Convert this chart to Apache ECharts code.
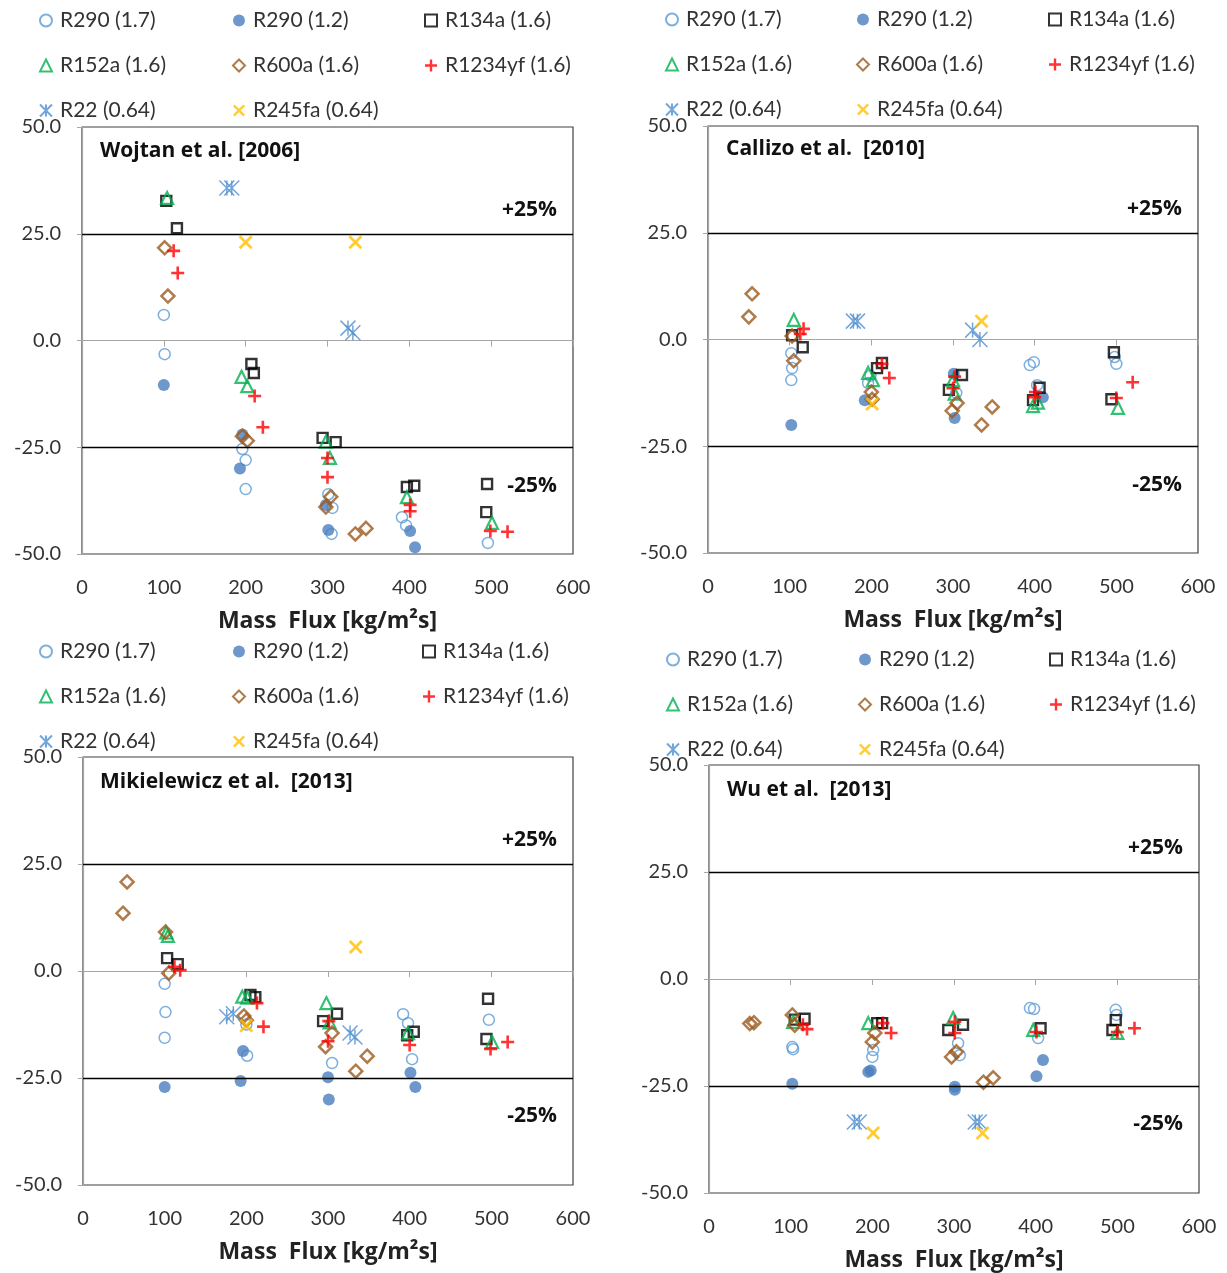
<!DOCTYPE html>
<html lang="en">
<head>
    <meta charset="utf-8">
    <title>Mass flux deviation</title>
    <style>
        html, body { margin: 0; padding: 0; background: #fff; }
        #main { width: 1227px; height: 1273px; }
    </style>
</head>
<body>
<div id="main"></div>
<script src="https://cdn.jsdelivr.net/npm/echarts@6/dist/echarts.min.js"></script>
<script>
    // series names, same order in every panel
    var refrigerants = ['R290 (1.7)', 'R290 (1.2)', 'R134a (1.6)', 'R152a (1.6)',
        'R600a (1.6)', 'R1234yf (1.6)', 'R22 (0.64)', 'R245fa (0.64)'];
    var panelTitles = ['Wojtan et al. [2006]', 'Callizo et al.  [2010]',
        'Mikielewicz et al.  [2013]', 'Wu et al.  [2013]'];
    var xTicks = [0, 100, 200, 300, 400, 500, 600];
    var yTicks = [-50, -25, 0, 25, 50];
    var bandLimits = [25, -25];
    var bandLabels = ['+25%', '-25%'];

    // [mass flux, deviation %] per refrigerant (order of refrigerants)
    var wojtan = [
        [[100, 6], [101, -3.2], [196, -25.4], [200, -28], [200, -34.8], [301, -36], [306, -39.2], [305, -45.3], [391, -41.4], [396, -43.3], [496, -47.4]],
        [[100, -10.4], [196, -22], [193, -30], [298, -38.5], [301, -44.4], [401, -44.6], [407, -48.4]],
        [[103, 32.7], [116, 26.3], [207, -5.5], [210, -7.6], [294, -22.8], [310, -23.8], [397, -34.3], [406, -34], [495, -33.6], [494, -40.2]],
        [[104, 33.4], [195, -8.5], [202, -10.7], [298, -23.7], [303, -27.5], [397, -36.7], [501, -42.7]],
        [[101, 21.7], [105, 10.4], [196, -22.4], [202, -23.5], [304, -36.6], [298, -39], [334, -45.3], [347, -44]],
        [[112, 21], [117, 15.8], [211, -13], [221, -20.3], [300, -27.5], [300, -32], [401, -38.5], [401, -40], [499, -44.6], [520, -44.8]],
        [[177, 35.7], [183, 35.7], [325, 2.9], [331, 1.8]],
        [[200, 23], [334, 23]]
    ];
    var callizo = [
        [[102, -3.2], [103, -6.7], [102, -9.5], [196, -10.2], [199, -8.5], [304, -12.5], [394, -6], [399, -5.3], [403, -10.7], [498, -4.1], [500, -5.7]],
        [[102, -20], [192, -14.2], [301, -8], [302, -18.4], [410, -13.5]],
        [[103, 1], [116, -1.8], [213, -5.5], [207, -6.7], [311, -8.3], [295, -11.8], [406, -11.3], [398, -14.2], [497, -3], [494, -14]],
        [[105, 4.6], [196, -7.8], [202, -9.5], [300, -9.5], [302, -12.7], [398, -15.6], [404, -14.8], [502, -16]],
        [[54, 10.7], [50, 5.3], [103, 0.8], [105, -5], [200, -12.3], [201, -14], [305, -14.9], [299, -16.7], [348, -15.8], [335, -20]],
        [[117, 2.5], [113, 1.3], [213, -5.7], [222, -9], [302, -8.7], [300, -11.4], [401, -12.3], [400, -13.5], [520, -10], [500, -13.7]],
        [[178, 4.3], [183, 4.3], [324, 2.2], [333, 0]],
        [[201, -15.1], [335, 4.3]]
    ];
    var mikielewicz = [
        [[100, -3], [101, -9.6], [100, -15.6], [200, -12.5], [201, -19.8], [305, -21.5], [392, -10.1], [398, -12.2], [403, -20.6], [497, -11.4]],
        [[100, -27.1], [196, -18.7], [193, -25.7], [300, -24.8], [301, -30], [401, -23.8], [407, -27.1]],
        [[103, 3], [116, 1.6], [205, -5.6], [211, -6.1], [294, -11.7], [311, -10], [405, -14.2], [397, -15], [496, -6.5], [494, -15.9]],
        [[104, 8.2], [102, 9], [195, -6], [201, -6.2], [298, -7.5], [302, -12], [398, -14.5], [501, -16.6]],
        [[54, 20.8], [49, 13.5], [101, 9.1], [105, -0.5], [197, -10.5], [200, -11.5], [305, -14.5], [297, -17.7], [334, -23.4], [348, -19.9]],
        [[112, 1], [119, 0.2], [213, -7.5], [221, -13], [301, -11.7], [300, -16.4], [400, -17.3], [499, -18.2], [520, -16.6]],
        [[176, -10.7], [184, -10], [327, -14.5], [333, -15.4]],
        [[200, -12.8], [334, 5.6]]
    ];
    var wu = [
        [[102, -15.9], [103, -16.4], [201, -16.6], [200, -18.2], [305, -15], [307, -17.8], [393, -6.8], [398, -7], [403, -13.8], [498, -7.2], [499, -8.4]],
        [[102, -24.5], [195, -21.7], [198, -21.4], [301, -25.2], [301, -25.9], [409, -18.9], [401, -22.7]],
        [[105, -9.5], [117, -9.3], [206, -10.3], [212, -10.3], [293, -11.9], [311, -10.7], [406, -11.5], [498, -9.6], [494, -11.9]],
        [[103, -10], [195, -10.3], [299, -9.1], [397, -11.9], [500, -12.6]],
        [[50, -10.4], [55, -10.2], [102, -8.4], [105, -10.8], [203, -12.6], [200, -14.7], [303, -17], [297, -18.2], [336, -24.1], [348, -23.1]],
        [[115, -10.7], [120, -11.7], [213, -10.3], [223, -12.6], [301, -10], [301, -12.6], [401, -12.4], [500, -12.4], [521, -11.5]],
        [[178, -33.4], [184, -33.4], [326, -33.4], [331, -33.4]],
        [[201, -36], [335, -36]]
    ];
    var panels = [wojtan, callizo, mikielewicz, wu];

    var FONT = 'Lato';
    var BOLD = 'Open Sans';
    var TXT = '#333';

    // marker looks, in refrigerant order
    var markers = [
        {symbol: 'circle', size: 11, style: {color: 'rgba(255,255,255,0)', borderColor: '#5B9BD5', borderWidth: 1.5}},
        {symbol: 'circle', size: 12, style: {color: '#4A7EBF', borderColor: '#4A7EBF', borderWidth: 0}},
        {symbol: 'rect', size: 10, style: {color: 'rgba(255,255,255,0)', borderColor: '#000', borderWidth: 2.4}},
        {symbol: 'triangle', size: 12, style: {color: 'rgba(255,255,255,0)', borderColor: '#00B050', borderWidth: 2.2}},
        {symbol: 'diamond', size: 13, style: {color: 'rgba(255,255,255,0)', borderColor: '#9C5A1E', borderWidth: 2.5}},
        {symbol: 'path://M4,0H6V4H10V6H6V10H4V6H0V4H4Z', size: 13, style: {color: '#FF0000', borderWidth: 0}},
        {symbol: 'path://M0,0L10,10M10,0L0,10M5,0V10', size: 15, style: {color: 'rgba(0,0,0,0)', borderColor: '#4F8FCF', borderWidth: 1.5}},
        {symbol: 'path://M1.4,0L5,3.6L8.6,0L10,1.4L6.4,5L10,8.6L8.6,10L5,6.4L1.4,10L0,8.6L3.6,5L0,1.4Z', size: 14, style: {color: '#FFC000', borderWidth: 0}}
    ];

    var grids = [
        {left: 82, top: 127, width: 491, height: 427},
        {left: 708, top: 126, width: 490, height: 427},
        {left: 83, top: 757, width: 490, height: 428},
        {left: 709, top: 765, width: 490, height: 428}
    ];
    var titlePos = [[100, 141], [726, 139], [100, 772], [727, 780]];
    // legend column lefts and top per panel
    var legendCols = [[39, 232, 424], [665, 856, 1048], [39, 232, 422], [666, 858, 1049]];
    var legendTops = [10, 9, 641, 649];
    var colItems = [[0, 3, 6], [1, 4, 7], [2, 5]];

    var myChart = echarts.init(document.getElementById('main'));

    var option = {
        backgroundColor: '#fff',
        animation: false,
        title: [],
        legend: [],
        grid: [],
        xAxis: [],
        yAxis: [],
        series: []
    };

    grids.forEach(function (g, p) {
        option.grid.push({
            left: g.left, top: g.top, width: g.width, height: g.height,
            show: true, borderColor: '#404040', borderWidth: 1.2, backgroundColor: 'transparent'
        });
        option.title.push({
            text: panelTitles[p], left: titlePos[p][0], top: titlePos[p][1], padding: 0,
            textStyle: {fontFamily: BOLD, fontSize: 21, fontWeight: 'bold', color: '#111'}
        });
        option.xAxis.push({
            gridIndex: p, type: 'value',
            min: xTicks[0], max: xTicks[xTicks.length - 1], interval: xTicks[1] - xTicks[0],
            name: 'Mass  Flux [kg/m²s]', nameLocation: 'middle', nameGap: 56,
            nameTextStyle: {fontFamily: BOLD, fontSize: 23, fontWeight: 'bold', color: '#222'},
            axisLine: {lineStyle: {color: '#A6A6A6', width: 1.2}},
            axisTick: {show: true, inside: false, length: 6, lineStyle: {color: '#A6A6A6'}},
            axisLabel: {fontFamily: FONT, fontSize: 20, color: TXT, margin: 24},
            splitLine: {show: false}
        });
        option.yAxis.push({
            gridIndex: p, type: 'value',
            min: yTicks[0], max: yTicks[yTicks.length - 1], interval: yTicks[1] - yTicks[0],
            axisLine: {show: true, lineStyle: {color: '#A6A6A6', width: 1.2}},
            axisTick: {show: true, inside: false, length: 5, lineStyle: {color: '#A6A6A6'}},
            axisLabel: {
                fontFamily: FONT, fontSize: 20, color: TXT, margin: 21,
                formatter: function (v) { return v.toFixed(1); }
            },
            splitLine: {show: false}
        });
        colItems.forEach(function (items, c) {
            option.legend.push({
                orient: 'vertical', left: legendCols[p][c], top: legendTops[p],
                padding: 0, itemGap: 24, itemWidth: 12, itemHeight: 12,
                textStyle: {fontFamily: FONT, fontSize: 21, color: TXT, lineHeight: 20, padding: [0, 0, 0, 3]},
                data: items.map(function (i) { return refrigerants[i]; })
            });
        });
        panels[p].forEach(function (pts, i) {
            var s = {
                type: 'scatter', name: refrigerants[i],
                xAxisIndex: p, yAxisIndex: p,
                symbol: markers[i].symbol, symbolSize: markers[i].size, symbolKeepAspect: true,
                itemStyle: markers[i].style,
                data: pts
            };
            if (i === 0) {
                s.markLine = {
                    silent: true, symbol: 'none', animation: false,
                    lineStyle: {color: '#000', width: 1.3, type: 'solid'},
                    data: bandLimits.map(function (v, k) {
                        return {
                            yAxis: v,
                            label: {
                                show: true, formatter: bandLabels[k],
                                position: k === 0 ? 'insideEndTop' : 'insideEndBottom',
                                distance: k === 0 ? [16, 13] : [16, 28],
                                fontFamily: BOLD, fontSize: 21, fontWeight: 'bold', color: '#111'
                            }
                        };
                    })
                };
            }
            option.series.push(s);
        });
    });

    myChart.setOption(option);
</script>
</body>
</html>
